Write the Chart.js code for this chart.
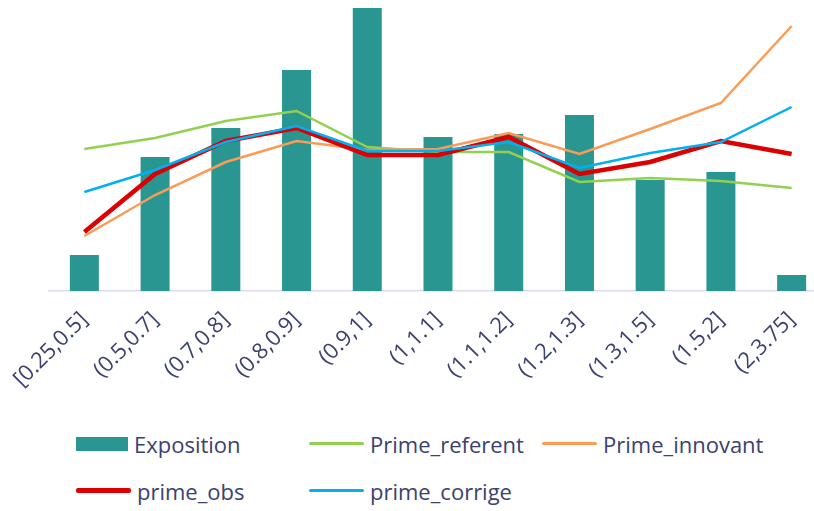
<!DOCTYPE html>
<html>
<head>
<meta charset="utf-8">
<script src="https://cdn.jsdelivr.net/npm/chart.js@4.4.1/dist/chart.umd.min.js"></script>
<style>
  html, body { margin: 0; padding: 0; background: #fff; overflow: hidden; width: 814px; height: 511px; }
  #wrap { position: absolute; left: 0; top: 0; width: 830px; height: 420px; }
  #legend { position: absolute; left: 76px; top: 420px; width: 720px; font-family: 'Open Sans', sans-serif; font-size: 22px; color: #3b4170; }
  .row { display: flex; height: 47px; align-items: center; }
  .item { width: 233px; display: flex; align-items: center; white-space: nowrap; }
  .mark { display: inline-block; margin-right: 6px; }
</style>
</head>
<body>
<div id="wrap"><canvas id="chart"></canvas></div>
<div id="legend"></div>
<script>
    // categories and series
    const tranches = ['[0.25,0.5]', '(0.5,0.7]', '(0.7,0.8]', '(0.8,0.9]', '(0.9,1]', '(1,1.1]', '(1.1,1.2]', '(1.2,1.3]', '(1.3,1.5]', '(1.5,2]', '(2,3.75]'];
    const exposition = [36, 134, 163, 221, 283, 154, 157, 176, 111, 119, 16];
    const primeReferent = [142, 153, 170, 180, 144, 139, 139, 109, 113, 110, 103];
    const primeInnovant = [55, 96, 129, 150, 141, 142, 158, 137, 162, 188, 265];
    const primeObs = [59, 117, 150, 163, 136, 136, 154, 117, 129, 150, 137];
    const primeCorrige = [99, 121, 149, 165, 140, 140, 149, 123, 138, 149, 184];

    const teal = '#2a9692';
    const green = '#92d050';
    const orange = '#fa9c56';
    const red = '#dc0000';
    const blue = '#00b0f0';
    const ink = '#3b4170';

    const line = (label, data, color, width, order) => ({
        type: 'line', label, data, order,
        borderColor: color, backgroundColor: color, borderWidth: width,
        pointRadius: 0, tension: 0, fill: false
    });

    const chart = new Chart(document.getElementById('chart').getContext('2d'), {
        data: {
            labels: tranches,
            datasets: [
                { type: 'bar', label: 'Exposition', data: exposition, backgroundColor: teal, order: 10,
                  categoryPercentage: 1, barPercentage: 0.41 },
                line('Prime_referent', primeReferent, green, 2.5, 4),
                line('Prime_innovant', primeInnovant, orange, 2.5, 3),
                line('prime_obs', primeObs, red, 4.5, 2),
                line('prime_corrige', primeCorrige, blue, 2.5, 1)
            ]
        },
        options: {
            responsive: true,
            maintainAspectRatio: false,
            animation: false,
            layout: { padding: { left: 49, right: 3, top: 0, bottom: 0 } },
            scales: {
                x: {
                    grid: { display: false },
                    border: { color: '#d9dcf0', width: 1.5 },
                    ticks: { color: ink, font: { family: 'Open Sans', size: 22 }, minRotation: 45, maxRotation: 45, padding: 8 },
                    afterFit: (scale) => { scale.height = 129; }
                },
                y: { display: false, min: 0, max: 291 }
            },
            plugins: { legend: { display: false }, tooltip: { enabled: false } }
        }
    });

    // legend laid out on a fixed column grid
    const legendRows = [[0, 1, 2], [3, 4]];
    const legendEl = document.getElementById('legend');
    legendRows.forEach(idx => {
        const row = document.createElement('div');
        row.className = 'row';
        idx.forEach(i => {
            const ds = chart.data.datasets[i];
            const item = document.createElement('div');
            item.className = 'item';
            const mark = document.createElement('span');
            mark.className = 'mark';
            if (ds.type === 'bar') {
                mark.style.cssText = `width:52px;height:14px;background:${ds.backgroundColor};`;
            } else {
                mark.style.cssText = `width:55px;height:${ds.borderWidth > 3 ? 5 : 3}px;border-radius:2px;background:${ds.borderColor};`;
            }
            item.appendChild(mark);
            item.appendChild(document.createTextNode(ds.label));
            row.appendChild(item);
        });
        legendEl.appendChild(row);
    });
</script>
</body>
</html>
